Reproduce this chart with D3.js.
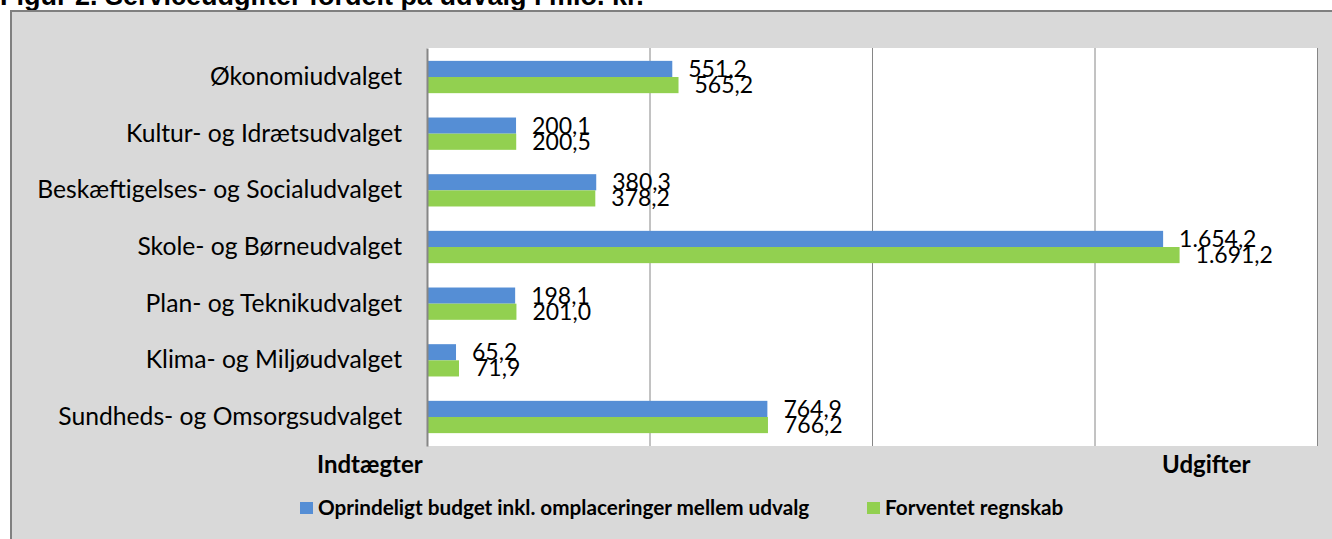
<!DOCTYPE html>
<html>
<head>
<meta charset="utf-8">
<script src="https://cdn.jsdelivr.net/npm/d3@7"></script>
<style>
  html, body { margin: 0; padding: 0; background: #ffffff; }
  svg { display: block; }
</style>
</head>
<body>
<svg id="chart" width="1332" height="539"></svg>
<script>
// ---- Data ----
const categories = [
  "Økonomiudvalget",
  "Kultur- og Idrætsudvalget",
  "Beskæftigelses- og Socialudvalget",
  "Skole- og Børneudvalget",
  "Plan- og Teknikudvalget",
  "Klima- og Miljøudvalget",
  "Sundheds- og Omsorgsudvalget"
];
const budgetValues = [551.2, 200.1, 380.3, 1654.2, 198.1, 65.2, 764.9];
const forventetValues = [565.2, 200.5, 378.2, 1691.2, 201.0, 71.9, 766.2];
const seriesNames = [
  "Oprindeligt budget inkl. omplaceringer mellem udvalg",
  "Forventet regnskab"
];
const gridTicks = [0, 500, 1000, 1500, 2000];
const titleText = "Figur 2. Serviceudgifter fordelt på udvalg i mio. kr.";
const leftAxisLabel = "Indtægter";
const rightAxisLabel = "Udgifter";

// ---- Setup ----
const colors = ["#558ed5", "#92d050"];
const svg = d3.select("#chart");
const plot = { left: 427, right: 1317, top: 48, bottom: 446 };

const locale = d3.formatLocale({ decimal: ",", thousands: ".", grouping: [3], currency: ["", " kr."] });
const fmt = locale.format(",.1f");

// Title (cut off at top, as in the reference)
svg.append("text")
  .attr("x", 0).attr("y", 5)
  .attr("font-family", "Liberation Sans, Arial, sans-serif")
  .attr("font-weight", "bold")
  .attr("font-size", 27)
  .attr("fill", "#000")
  .text(titleText);

// Chart area background + border
svg.append("rect")
  .attr("x", 11).attr("y", 11)
  .attr("width", 1500).attr("height", 700)
  .attr("fill", "#d9d9d9")
  .attr("stroke", "#808080")
  .attr("stroke-width", 2);

// Plot area
svg.append("rect")
  .attr("x", plot.left).attr("y", plot.top)
  .attr("width", plot.right - plot.left).attr("height", plot.bottom - plot.top)
  .attr("fill", "#ffffff");

const x = d3.scaleLinear().domain([0, 2000]).range([plot.left, plot.right]);
const y = d3.scaleBand().domain(categories).range([plot.top, plot.bottom])
  .paddingInner(0.43).paddingOuter(0.227);
const ySub = d3.scaleBand().domain([0, 1]).range([0, y.bandwidth()]);

// Gridlines
const grid = svg.append("g")
  .attr("transform", `translate(0,${plot.bottom})`)
  .call(d3.axisBottom(x).tickValues(gridTicks.slice(1)).tickSize(-(plot.bottom - plot.top)).tickFormat(""));
grid.select(".domain").remove();
grid.selectAll(".tick line").attr("stroke", "#868686").attr("stroke-width", 1);

// Bars
const seriesData = [budgetValues, forventetValues];
seriesData.forEach((vals, si) => {
  svg.append("g").selectAll("rect")
    .data(vals)
    .join("rect")
    .attr("x", x(0))
    .attr("y", (d, i) => y(categories[i]) + ySub(si))
    .attr("width", d => x(d) - x(0))
    .attr("height", ySub.bandwidth())
    .attr("fill", colors[si]);
});

// Value labels
seriesData.forEach((vals, si) => {
  svg.append("g").selectAll("text")
    .data(vals)
    .join("text")
    .attr("x", d => x(d) + 16)
    .attr("y", (d, i) => y(categories[i]) + ySub(si) + ySub.bandwidth() / 2)
    .attr("dy", "0.35em")
    .attr("font-family", "Lato, sans-serif")
    .attr("font-size", 23)
    .attr("fill", "#000")
    .text(d => fmt(d));
});

// Category axis (left)
const yAxis = svg.append("g")
  .attr("transform", `translate(${plot.left},0)`)
  .call(d3.axisLeft(y).tickSize(0).tickPadding(25));
yAxis.select(".domain").attr("stroke", "#868686").attr("stroke-width", 2);
yAxis.selectAll(".tick text")
  .attr("font-family", "Lato, sans-serif")
  .attr("font-size", 24.7)
  .attr("fill", "#000");

// Axis end labels
svg.append("text")
  .attr("x", 317).attr("y", 473)
  .attr("font-family", "Lato, sans-serif")
  .attr("font-weight", "bold")
  .attr("font-size", 24)
  .attr("fill", "#000")
  .text(leftAxisLabel);
svg.append("text")
  .attr("x", 1162).attr("y", 473)
  .attr("font-family", "Lato, sans-serif")
  .attr("font-weight", "bold")
  .attr("font-size", 24)
  .attr("fill", "#000")
  .text(rightAxisLabel);

// Legend
const legendPos = [300, 867];
seriesNames.forEach((name, i) => {
  const g = svg.append("g").attr("transform", `translate(${legendPos[i]},502)`);
  g.append("rect").attr("width", 13).attr("height", 12).attr("fill", colors[i]);
  g.append("text")
    .attr("x", 18).attr("y", 6)
    .attr("dy", "0.35em")
    .attr("font-family", "Lato, sans-serif")
    .attr("font-weight", "bold")
    .attr("font-size", 20.7)
    .attr("fill", "#000")
    .text(name);
});
</script>
</body>
</html>
